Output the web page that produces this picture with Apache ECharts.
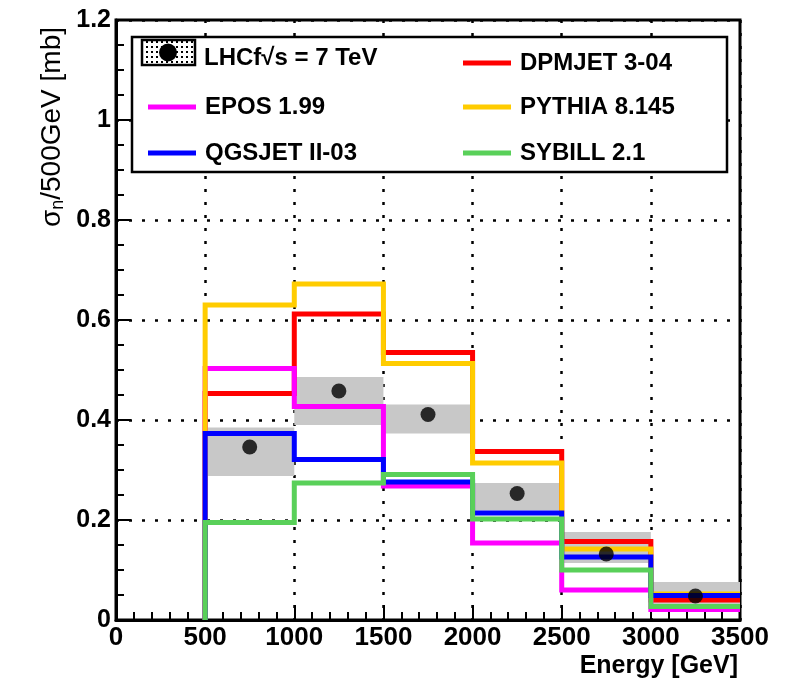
<!DOCTYPE html>
<html>
<head>
<meta charset="utf-8">
<script src="https://cdn.jsdelivr.net/npm/echarts@6/dist/echarts.min.js"></script>
<style>html,body{margin:0;padding:0;background:#fff;}#c{width:796px;height:682px;}</style>
</head>
<body>
<div id="c"></div>
<script>
// ---- data ----
const binEdges = [500, 1000, 1500, 2000, 2500, 3000, 3500];
const binCenters = [750, 1250, 1750, 2250, 2750, 3250];
const lhcfValues = [0.346, 0.458, 0.411, 0.253, 0.132, 0.048];
const lhcfSysLow = [0.288, 0.390, 0.373, 0.219, 0.114, 0.021];
const lhcfSysHigh = [0.385, 0.486, 0.431, 0.274, 0.176, 0.076];
const dpmjet = [0.453, 0.612, 0.535, 0.337, 0.157, 0.040];
const epos = [0.503, 0.427, 0.268, 0.154, 0.060, 0.021];
const pythia = [0.630, 0.672, 0.513, 0.314, 0.142, 0.052];
const qgsjet = [0.373, 0.321, 0.276, 0.214, 0.126, 0.049];
const sybill = [0.195, 0.274, 0.291, 0.202, 0.100, 0.027];
const modelNames = ['DPMJET 3-04', 'EPOS 1.99', 'PYTHIA 8.145', 'QGSJET II-03', 'SYBILL 2.1'];
const modelColors = ['#ff0000', '#ff00ff', '#ffcc00', '#0000ff', '#59d059'];
const modelValues = [dpmjet, epos, pythia, qgsjet, sybill];
const xTickValues = [0, 500, 1000, 1500, 2000, 2500, 3000, 3500];
const yTickValues = [0, 0.2, 0.4, 0.6, 0.8, 1, 1.2];

function histo(vals) {
  const d = [[binEdges[0], 0]];
  vals.forEach((v, i) => d.push([binEdges[i], v]));
  d.push([binEdges[binEdges.length - 1], vals[vals.length - 1]]);
  return d;
}

// dotted pattern for LHCf legend icon
const pat = document.createElement('canvas');
pat.width = 5; pat.height = 5;
const pctx = pat.getContext('2d');
pctx.fillStyle = '#fff'; pctx.fillRect(0, 0, 5, 5);
pctx.fillStyle = '#000'; pctx.fillRect(1, 1, 2, 2);

const FONT = 'Liberation Sans';
const chart = echarts.init(document.getElementById('c'), null, {renderer: 'canvas'});

const series = [];
series.push({
  type: 'custom',
  name: 'sys',
  z: 1,
  clip: true,
  data: binCenters.map((c, i) => [binEdges[i], binEdges[i + 1], lhcfSysLow[i], lhcfSysHigh[i]]),
  renderItem: function (params, api) {
    const p0 = api.coord([api.value(0), api.value(2)]);
    const p1 = api.coord([api.value(1), api.value(3)]);
    return {
      type: 'rect',
      shape: {x: p0[0], y: p1[1], width: p1[0] - p0[0], height: p0[1] - p1[1]},
      style: {fill: '#c8c8c8'}
    };
  }
});
modelNames.forEach((n, k) => {
  series.push({
    type: 'line',
    name: n,
    step: 'end',
    z: 3 + k,
    symbol: 'none',
    showSymbol: false,
    color: modelColors[k],
    lineStyle: {width: 5, color: modelColors[k], cap: 'butt', join: 'miter'},
    data: histo(modelValues[k])
  });
});
series.push({
  type: 'scatter',
  name: 'LHCf',
  z: 20,
  symbol: 'circle',
  symbolSize: 15,
  itemStyle: {color: '#000'},
  data: binCenters.map((c, i) => [c, lhcfValues[i]])
});

function legendFor(name, left, top) {
  return {
    data: [{name: name, icon: 'rect'}],
    left: left, top: top,
    orient: 'vertical',
    itemWidth: 48, itemHeight: 5,
    selectedMode: false,
    z: 10,
    textStyle: {fontFamily: FONT, fontWeight: 'bold', fontSize: 24, color: '#000', lineHeight: 30, padding: [0, 0, 0, 4]}
  };
}

const rowY = [58, 102, 148];
const option = {
  animation: false,
  backgroundColor: '#fff',
  grid: {left: 116, right: 56, top: 20, bottom: 62, show: true, borderColor: '#000', borderWidth: 3, containLabel: false},
  xAxis: {
    type: 'value', min: 0, max: 3500, interval: 500,
    name: 'Energy [GeV]', nameLocation: 'end', nameGap: -2,
    nameTextStyle: {fontFamily: FONT, fontWeight: 'bold', fontSize: 25, color: '#000', align: 'right', verticalAlign: 'top', padding: [34, 0, 0, 0]},
    axisLine: {show: true, onZero: false, lineStyle: {color: '#000', width: 3}},
    axisTick: {show: true, inside: true, length: 15, lineStyle: {color: '#000', width: 2}},
    minorTick: {show: true, splitNumber: 5, length: 8, lineStyle: {color: '#000', width: 2}},
    axisLabel: {fontFamily: FONT, fontWeight: 'bold', fontSize: 26, color: '#000', margin: 5,
      formatter: v => xTickValues.indexOf(v) >= 0 ? String(v) : ''},
    splitLine: {show: true, lineStyle: {color: '#000', width: 2.5, type: [3, 10]}}
  },
  yAxis: {
    type: 'value', min: 0, max: 1.2, interval: 0.2,
    axisLine: {show: true, onZero: false, lineStyle: {color: '#000', width: 3}},
    axisTick: {show: true, inside: true, length: 15, lineStyle: {color: '#000', width: 2}},
    minorTick: {show: true, splitNumber: 4, length: 8, lineStyle: {color: '#000', width: 2}},
    axisLabel: {fontFamily: FONT, fontWeight: 'bold', fontSize: 25, color: '#000', margin: 5,
      formatter: v => { const t = yTickValues.find(y => Math.abs(y - v) < 1e-9); return t === undefined ? '' : String(t); }},
    splitLine: {show: true, lineStyle: {color: '#000', width: 2.5, type: [3, 10]}}
  },
  legend: [
    legendFor(modelNames[1], 143, rowY[1] - 15),
    legendFor(modelNames[3], 143, rowY[2] - 15),
    legendFor(modelNames[0], 458, rowY[0] - 15),
    legendFor(modelNames[2], 458, rowY[1] - 15),
    legendFor(modelNames[4], 458, rowY[2] - 15)
  ],
  graphic: [
    {type: 'rect', z: 8, shape: {x: 132, y: 37, width: 595, height: 135},
      style: {fill: '#fff', stroke: '#000', lineWidth: 2.5}},
    {type: 'rect', z: 11, shape: {x: 142, y: 40, width: 53, height: 25},
      style: {fill: {image: pat, repeat: 'repeat'}, stroke: '#000', lineWidth: 2.5}},
    {type: 'circle', z: 12, shape: {cx: 168, cy: 52.5, r: 9}, style: {fill: '#000'}},
    {type: 'text', z: 12, x: 204, y: rowY[0],
      style: {text: 'LHCf\u221As = 7 TeV', fontFamily: FONT, fontWeight: 'bold', fontSize: 24, fill: '#000', verticalAlign: 'middle', align: 'left'}},
    {type: 'text', z: 12, x: 52, y: 27, rotation: Math.PI / 2,
      style: {text: '{a|\u03C3}{b|n}{a|/500GeV [mb]}', align: 'right', verticalAlign: 'middle',
        rich: {a: {fontFamily: FONT, fontSize: 28, fill: '#000', lineHeight: 32},
               b: {fontFamily: FONT, fontSize: 18, fill: '#000', lineHeight: 32, padding: [13, 0, 0, 0]}}}}
  ],
  series: series
};
chart.setOption(option);
</script>
</body>
</html>
